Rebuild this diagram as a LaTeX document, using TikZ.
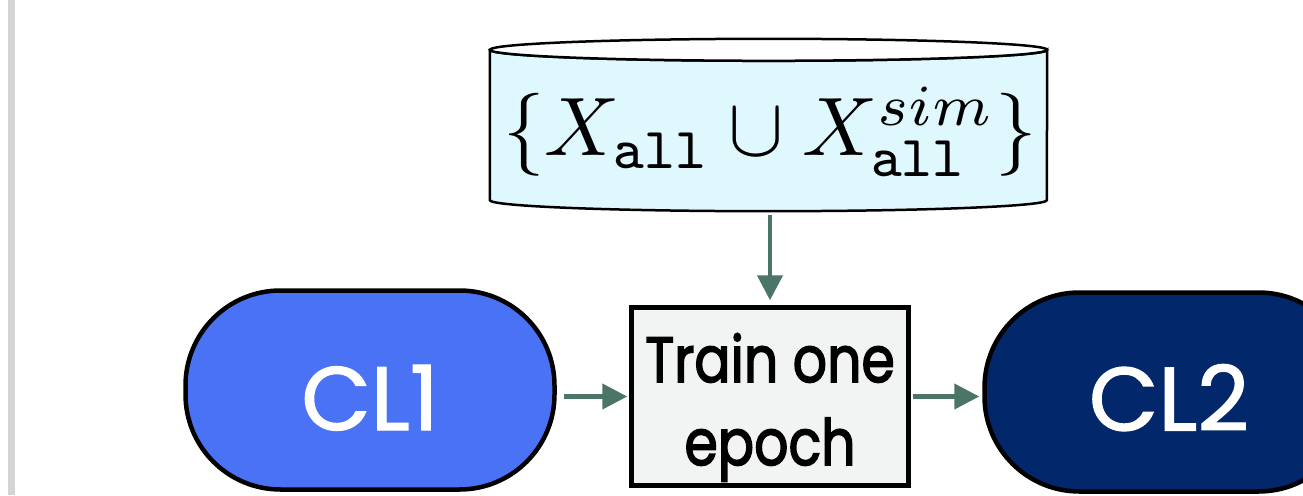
\documentclass[tikz,border=0pt]{standalone}
\usepackage{graphicx}
\usepackage{fontspec}
\newfontfamily\clfont{Poppins}[FakeBold=1.4]
\newfontfamily\trainfont{Poppins}[FakeBold=2.6]
\usetikzlibrary{arrows.meta}

\definecolor{edgegreen}{HTML}{4B7568}
\definecolor{dbfill}{HTML}{DFF8FD}
\definecolor{boxfill}{HTML}{F2F4F3}
\definecolor{clonefill}{HTML}{4A72F5}
\definecolor{cltwofill}{HTML}{02286B}
\definecolor{railgray}{HTML}{D4D4D4}

\begin{document}
\begin{tikzpicture}[x=1pt,y=-1pt,
  flow/.style={draw=edgegreen, line width=4.5pt,
    -{Triangle[length=25pt,width=25pt]}},
  clstage/.style={draw=black, line width=4.5pt, rounded corners=95pt,
    minimum width=369pt, minimum height=199pt, inner sep=0pt,
    text depth=0pt, text=white, font=\clfont\fontsize{90}{90}\selectfont},
  trainbox/.style={draw=black, line width=4.5pt, fill=boxfill,
    minimum width=277pt, minimum height=178pt, inner sep=0pt},
  trainlabel/.style={anchor=base, inner sep=0pt,
    font=\trainfont\fontsize{64}{83}\selectfont},
  dbwall/.style={draw=black, line width=2.5pt}
]
\useasboundingbox (0,0) rectangle (1303,495);
\clip (0,0) rectangle (1303,495);

% left margin rail
\fill[railgray] (8,0) rectangle (15,495);

% data store: cylinder drawn around an empty frame node
\node[minimum width=557pt, minimum height=150pt, inner sep=0pt] (db) at (768.5,125) {};
\draw[dbwall, fill=dbfill]
  (db.north west) -- (db.south west)
  arc[start angle=180, end angle=360, x radius=278.5pt, y radius=11pt]
  -- (db.north east)
  arc[start angle=0, end angle=-180, x radius=278.5pt, y radius=11pt]
  -- cycle;
\draw[dbwall, fill=white] (db.north) ellipse [x radius=278.5pt, y radius=11pt];
\node (dbtext) at (770,132)
  {\scalebox{8.3}{$\{X_{\mathtt{all}}\cup X^{sim}_{\mathtt{all}}\}$}};

% stages
\node[clstage, fill=clonefill, text height=80pt] (cl1) at (370,390) {CL1};
\node[trainbox] (train) at (770,396.5) {};
\node[trainlabel] (trainlabel) at (770,382)
  {\scalebox{0.84}[1]{\begin{tabular}[t]{@{}c@{}}Train one\\epoch\end{tabular}}};
\node[clstage, fill=cltwofill, text height=77pt] (cl2) at (1169,392) {CL2};

% connectors
\draw[flow, shorten <=15pt, shorten >=5pt] (train.north |- db.south) -- (train.north);
\draw[flow, shorten <=7pt, shorten >=2pt] (cl1.east |- train.west) -- (train.west);
\draw[flow, shorten <=2pt, shorten >=3pt] (train.east) -- (train.east -| cl2.west);
\end{tikzpicture}
\end{document}
